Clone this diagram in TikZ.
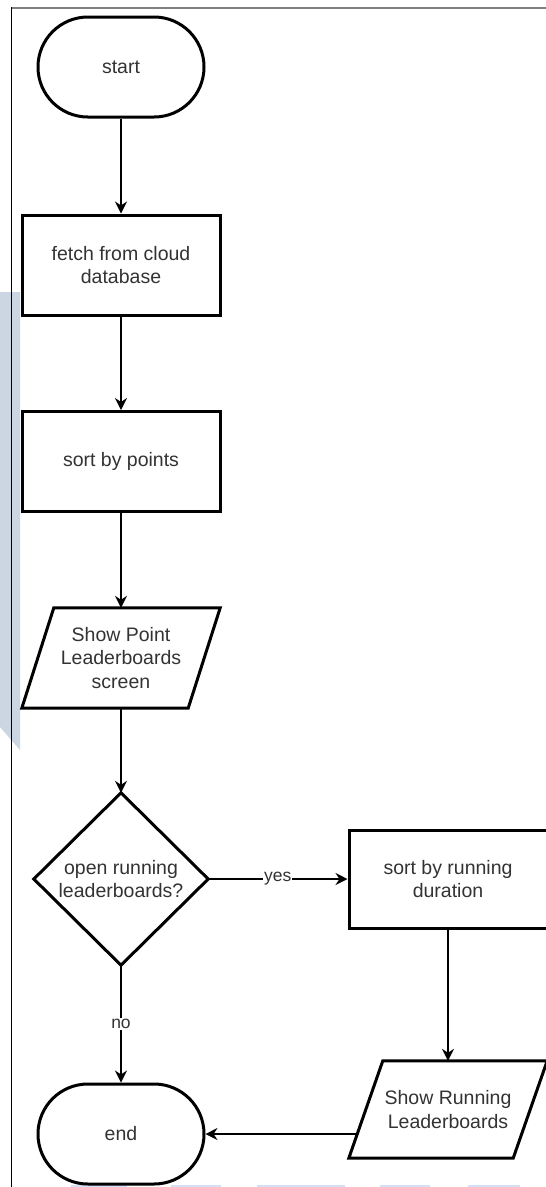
\documentclass[tikz,border=0pt]{standalone}
\usepackage{fontspec}
\setmainfont{Liberation Sans}
\usetikzlibrary{arrows.meta}
\definecolor{txt}{HTML}{333333}
\definecolor{framegray}{HTML}{808080}
\definecolor{bandblue}{HTML}{CBD6E2}
\definecolor{stripblue}{HTML}{D2E1F4}
\tikzset{
  shapeline/.style={line width=3pt, draw=black},
  procbox/.style={shapeline, rectangle, minimum width=198pt, minimum height=100pt,
    align=center, text=txt, font=\fontsize{19.5}{23.5}\selectfont, inner sep=0pt},
  termbox/.style={procbox, minimum width=166pt, rounded corners=49.9pt},
  frameless/.style={rectangle, draw=none, align=center, text=txt,
    font=\fontsize{19.5}{23.5}\selectfont, inner sep=0pt},
  conn/.style={line width=1.6pt, -{Stealth[length=12pt,width=12pt,inset=4pt]}},
  edgelabel/.style={fill=white, text=txt, font=\fontsize{17.5}{20}\selectfont, inner sep=1pt}
}
\begin{document}
\begin{tikzpicture}[x=1pt,y=-1pt]
\useasboundingbox (0,0) rectangle (546,1187);
\fill[white] (0,0) rectangle (546,1187);

% shaded band on the left margin and strips along the bottom
\fill[bandblue] (0,292) -- (20,292) -- (20,750) -- (0,727) -- cycle;
\foreach \a/\b in {71/127, 171/221, 257/345, 380/430, 468/520}
  \fill[stripblue] (\a,1184.5) rectangle (\b,1187);

% page frame
\draw[framegray, line width=2pt] (11,7.5) -- (546,7.5);
\draw[black, line width=1pt] (11.5,7) -- (11.5,1187);

% nodes
\node[termbox] (start) at (121,67) {start};
\node[procbox] (fetch) at (121,265) {fetch from cloud\\database};
\node[procbox] (sortp) at (121,461.5) {sort by points};

\node[frameless, minimum width=198pt, minimum height=100pt] (showp) at (121,658)
  {Show Point\\Leaderboards\\screen};
\draw[shapeline] (showp.south west) -- ([xshift=32pt]showp.north west)
  -- (showp.north east) -- ([xshift=-32pt]showp.south east) -- cycle;

\node[frameless, minimum width=174pt, minimum height=172pt] (dec) at (121,879)
  {open running\\leaderboards?};
\draw[shapeline, line join=miter] (dec.north) -- (dec.east) -- (dec.south) -- (dec.west) -- cycle;

\node[procbox] (sortr) at (448,879) [minimum height=98pt] {sort by running\\duration};

\node[frameless, minimum width=198pt, minimum height=97pt] (showr) at (448,1109.5)
  {Show Running\\Leaderboards};
\coordinate (showrTL) at ([xshift=34pt]showr.north west);
\draw[shapeline] (showr.south west) -- (showrTL)
  -- (showr.north east) -- ([xshift=-34pt]showr.south east) -- cycle;

\node[termbox] (end) at (121,1134) {end};

% connectors
\draw[conn] (start) -- (fetch);
\draw[conn] (fetch) -- (sortp);
\draw[conn] (sortp) -- (showp);
\draw[conn] (showp) -- (dec);
\draw[conn] (dec.east) -- node[edgelabel] {yes} (sortr.west);
\draw[conn] (dec.south) -- node[edgelabel] {no} (end.north);
\draw[conn] (sortr.south) -- (showr.north);
\coordinate (endrow) at (end.east -| showr.east);
\draw[conn] (intersection of showr.south west--showrTL and end.east--endrow) -- (end.east);
\end{tikzpicture}
\end{document}
